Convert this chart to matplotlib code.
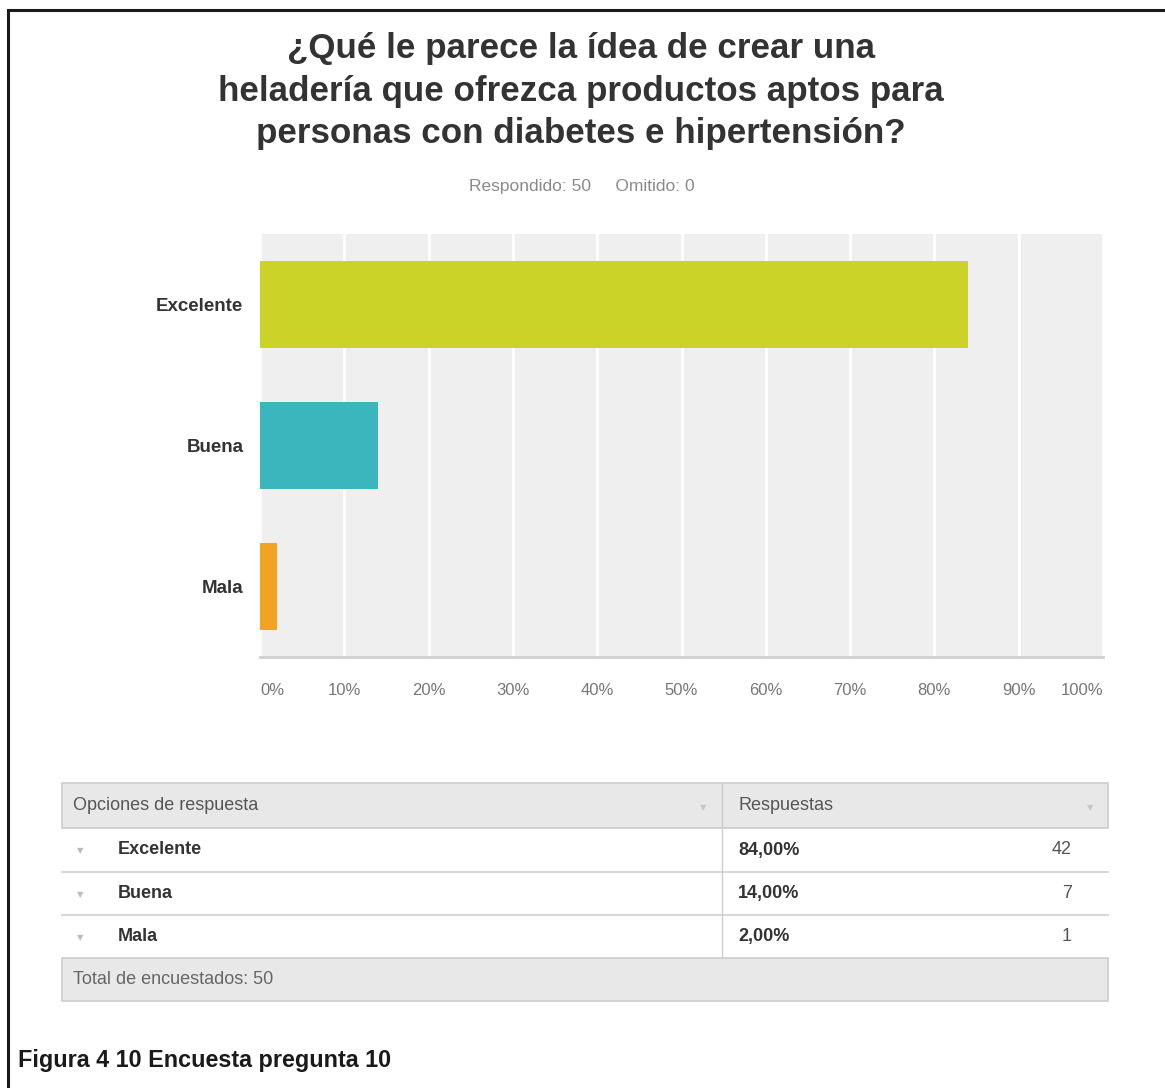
import numpy as np
import matplotlib.pyplot as plt
from matplotlib.patches import Rectangle

plt.rcParams['font.family'] = ['Liberation Sans', 'DejaVu Sans']

# survey data
opciones = ['Excelente', 'Buena', 'Mala']
porcentajes = [84.0, 14.0, 2.0]
respuestas = [42, 7, 1]
colores = ['#cbd228', '#3bb6bc', '#f2a421']
ticks = [0, 10, 20, 30, 40, 50, 60, 70, 80, 90, 100]
tick_labels = ['%d%%' % t for t in ticks]
total = 50
omitido = 0

W, H = 1165, 1088
fig = plt.figure(figsize=(W / 100, H / 100), dpi=100)
fig.patch.set_facecolor('white')

# overlay in pixel coords for frame, titles and table
ov = fig.add_axes([0, 0, 1, 1])
ov.set_xlim(0, W)
ov.set_ylim(H, 0)
ov.axis('off')
ov.patch.set_alpha(0)

ov.plot([8, 8, W], [H, 10, 10], color='#1a1a1a', lw=2.2, solid_joinstyle='miter')

ov.text(581, 91, '¿Qué le parece la ídea de crear una\nheladería que ofrezca productos aptos para\npersonas con diabetes e hipertensión?',
        ha='center', va='center', fontsize=25.2, fontweight='bold', color='#333333',
        linespacing=1.37)
ov.text(582, 186, 'Respondido: %d     Omitido: %d' % (total, omitido),
        ha='center', va='center', fontsize=12.5, color='#8a8a8a')

# bar chart
ax = fig.add_axes([260 / W, 1 - 657 / H, (1103 - 260) / W, (657 - 234) / H])
ax.set_facecolor('#efefef')
y = np.arange(len(opciones))
ax.barh(y, porcentajes, height=0.615, color=colores, zorder=3)
ax.set_xlim(0, 100)
ax.set_ylim(2.5, -0.5)
ax.set_xticks(ticks)
ax.xaxis.grid(True, color='white', lw=2, zorder=1)
ax.set_axisbelow(True)
ax.set_xticklabels(tick_labels, fontsize=12, color='#777777')
ax.tick_params(axis='x', length=0, pad=19)
ax.set_yticks(y)
ax.set_yticklabels(opciones, fontsize=13.5, fontweight='bold', color='#333333')
ax.tick_params(axis='y', length=0, pad=12)
for s in ['top', 'right', 'left']:
    ax.spines[s].set_visible(False)
ax.spines['bottom'].set_color('#cfcfcf')
ax.spines['bottom'].set_linewidth(2)
labels = ax.get_xticklabels()
labels[0].set_horizontalalignment('left')
labels[-1].set_horizontalalignment('right')

# response table
tx0, tx1, tcol = 62, 1108, 722
rows_y = [783, 828, 872, 915, 958, 1001]
fs = 13
ov.add_patch(Rectangle((tx0, rows_y[0]), tx1 - tx0, rows_y[1] - rows_y[0],
                       facecolor='#e8e8e8', edgecolor='#cccccc', lw=1.2))
ov.add_patch(Rectangle((tx0, rows_y[4]), tx1 - tx0, rows_y[5] - rows_y[4],
                       facecolor='#e8e8e8', edgecolor='#cccccc', lw=1.2))
for yy in rows_y[2:4]:
    ov.plot([tx0, tx1], [yy, yy], color='#d8d8d8', lw=1.5)
ov.plot([tcol, tcol], [rows_y[0], rows_y[4]], color='#cccccc', lw=1)

hy = (rows_y[0] + rows_y[1]) / 2
ov.text(73, hy, 'Opciones de respuesta', ha='left', va='center', fontsize=fs, color='#555555')
ov.text(738, hy, 'Respuestas', ha='left', va='center', fontsize=fs, color='#555555')
ov.text(703, hy + 2, '▼', ha='center', va='center', fontsize=6, color='#c8c8c8', family='DejaVu Sans')
ov.text(1090, hy + 2, '▼', ha='center', va='center', fontsize=6, color='#c8c8c8', family='DejaVu Sans')

for i, (op, pc, n) in enumerate(zip(opciones, porcentajes, respuestas)):
    ry = (rows_y[i + 1] + rows_y[i + 2]) / 2
    ov.text(80, ry + 1, '▼', ha='center', va='center', fontsize=6, color='#bbbbbb', family='DejaVu Sans')
    ov.text(118, ry, op, ha='left', va='center', fontsize=fs, fontweight='bold', color='#333333')
    ov.text(738, ry, ('%.2f%%' % pc).replace('.', ','), ha='left', va='center',
            fontsize=fs, fontweight='bold', color='#333333')
    ov.text(1072, ry, str(n), ha='right', va='center', fontsize=fs, color='#555555')

ov.text(73, (rows_y[4] + rows_y[5]) / 2, 'Total de encuestados: %d' % total,
        ha='left', va='center', fontsize=fs, color='#666666')

ov.text(18, 1061, 'Figura 4 10 Encuesta pregunta 10', ha='left', va='center',
        fontsize=16.8, fontweight='bold', color='#1a1a1a')

fig.savefig('out.png', dpi=100)
